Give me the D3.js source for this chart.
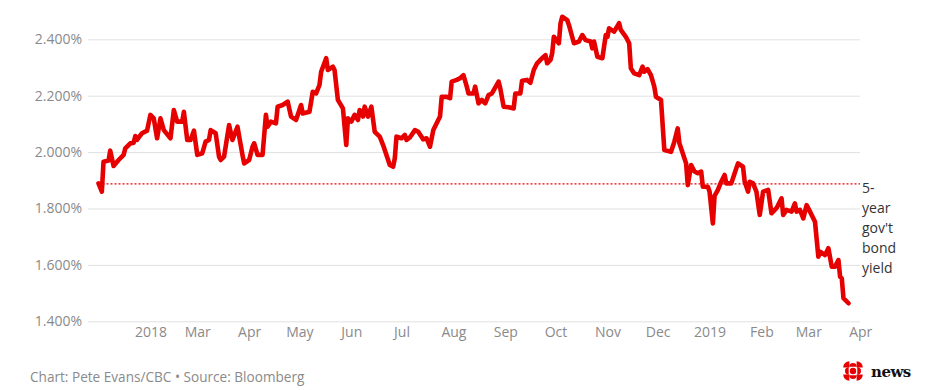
<!DOCTYPE html>
<html>
<head>
<meta charset="utf-8">
<script src="https://cdn.jsdelivr.net/npm/d3@7"></script>
<style>
  body { margin: 0; background: #fff; }
  svg { display: block; font-family: "Open Sans", sans-serif; }
</style>
</head>
<body>
<svg width="933" height="390"></svg>
<script>
// Canada 5-year government bond yield, %
var dates = [
  "2018-01-01","2018-01-03","2018-01-04","2018-01-07","2018-01-08","2018-01-10","2018-01-13","2018-01-16","2018-01-17","2018-01-20",
  "2018-01-22","2018-01-23","2018-01-24","2018-01-27","2018-01-30","2018-02-01","2018-02-03","2018-02-05","2018-02-07","2018-02-09",
  "2018-02-13","2018-02-15","2018-02-17","2018-02-20","2018-02-21","2018-02-23","2018-02-25","2018-02-27","2018-03-01","2018-03-04",
  "2018-03-06","2018-03-08","2018-03-09","2018-03-12","2018-03-14","2018-03-15","2018-03-17","2018-03-20","2018-03-22","2018-03-25",
  "2018-03-28","2018-03-29","2018-04-01","2018-04-03","2018-04-04","2018-04-06","2018-04-09","2018-04-11","2018-04-12","2018-04-14",
  "2018-04-17","2018-04-18","2018-04-21","2018-04-24","2018-04-26","2018-04-29","2018-05-02","2018-05-03","2018-05-07","2018-05-09",
  "2018-05-11","2018-05-13","2018-05-14","2018-05-17","2018-05-18","2018-05-21","2018-05-22","2018-05-24","2018-05-27","2018-05-29",
  "2018-05-30","2018-06-01","2018-06-03","2018-06-05","2018-06-06","2018-06-08","2018-06-09","2018-06-11","2018-06-13","2018-06-15",
  "2018-06-18","2018-06-20","2018-06-22","2018-06-24","2018-06-26","2018-06-27","2018-06-28","2018-07-01","2018-07-03","2018-07-04",
  "2018-07-06","2018-07-09","2018-07-11","2018-07-14","2018-07-16","2018-07-18","2018-07-20","2018-07-22","2018-07-24","2018-07-25",
  "2018-07-28","2018-07-30","2018-07-31","2018-08-03","2018-08-05","2018-08-07","2018-08-09","2018-08-10","2018-08-13","2018-08-14",
  "2018-08-16","2018-08-18","2018-08-20","2018-08-22","2018-08-24","2018-08-28","2018-08-29","2018-08-31","2018-09-03","2018-09-06",
  "2018-09-07","2018-09-10","2018-09-11","2018-09-14","2018-09-16","2018-09-18","2018-09-20","2018-09-23","2018-09-25","2018-09-26",
  "2018-09-28","2018-09-29","2018-09-30","2018-10-03","2018-10-04","2018-10-05","2018-10-08","2018-10-09","2018-10-12","2018-10-15",
  "2018-10-17","2018-10-19","2018-10-22","2018-10-23","2018-10-24","2018-10-26","2018-10-29","2018-10-31","2018-11-01","2018-11-02",
  "2018-11-05","2018-11-08","2018-11-09","2018-11-12","2018-11-14","2018-11-15","2018-11-17","2018-11-20","2018-11-22","2018-11-23",
  "2018-11-25","2018-11-27","2018-11-29","2018-11-30","2018-12-03","2018-12-05","2018-12-09","2018-12-11","2018-12-13","2018-12-14",
  "2018-12-16","2018-12-18","2018-12-19","2018-12-21","2018-12-23","2018-12-25","2018-12-27","2018-12-28","2018-12-31","2019-01-01",
  "2019-01-03","2019-01-04","2019-01-06","2019-01-08","2019-01-10","2019-01-11","2019-01-14","2019-01-16","2019-01-18","2019-01-21",
  "2019-01-22","2019-01-24","2019-01-25","2019-01-27","2019-01-29","2019-01-31","2019-02-02","2019-02-05","2019-02-07","2019-02-10",
  "2019-02-13","2019-02-14","2019-02-16","2019-02-19","2019-02-21","2019-02-22","2019-02-24","2019-02-26","2019-02-28","2019-03-02",
  "2019-03-05","2019-03-07","2019-03-08","2019-03-11","2019-03-13","2019-03-15","2019-03-17","2019-03-19","2019-03-20","2019-03-21",
  "2019-03-22","2019-03-25"
];
var yields = [
  1.889,1.860,1.966,1.970,2.005,1.951,1.972,1.990,2.013,2.031,
  2.033,2.057,2.043,2.067,2.076,2.132,2.120,2.049,2.120,2.078,
  2.049,2.149,2.108,2.108,2.143,2.043,2.043,2.076,1.990,1.996,
  2.037,2.043,2.078,2.067,1.984,1.972,1.984,2.096,2.043,2.090,
  1.990,1.960,1.972,2.019,2.031,1.990,1.990,2.132,2.090,2.108,
  2.102,2.161,2.167,2.179,2.126,2.114,2.167,2.137,2.143,2.214,
  2.208,2.238,2.285,2.333,2.291,2.303,2.291,2.185,2.155,2.025,
  2.120,2.108,2.132,2.114,2.149,2.126,2.161,2.126,2.161,2.072,
  2.055,2.025,1.990,1.954,1.948,1.978,2.055,2.049,2.061,2.043,
  2.052,2.078,2.072,2.045,2.049,2.019,2.078,2.102,2.126,2.196,
  2.196,2.191,2.250,2.256,2.262,2.273,2.232,2.208,2.208,2.232,
  2.173,2.185,2.173,2.202,2.208,2.250,2.226,2.161,2.159,2.155,
  2.208,2.208,2.253,2.256,2.246,2.291,2.315,2.333,2.344,2.315,
  2.327,2.350,2.409,2.386,2.457,2.480,2.468,2.451,2.386,2.392,
  2.415,2.397,2.392,2.368,2.392,2.338,2.333,2.415,2.409,2.439,
  2.427,2.457,2.433,2.409,2.386,2.297,2.279,2.273,2.303,2.285,
  2.294,2.273,2.232,2.196,2.185,2.007,2.001,2.037,2.084,2.031,
  1.996,1.960,1.883,1.954,1.931,1.925,1.931,1.877,1.877,1.860,
  1.747,1.845,1.866,1.895,1.919,1.889,1.889,1.925,1.960,1.948,
  1.895,1.860,1.895,1.889,1.860,1.777,1.860,1.866,1.783,1.801,
  1.836,1.777,1.795,1.789,1.818,1.789,1.795,1.765,1.812,1.789,
  1.753,1.629,1.647,1.635,1.659,1.594,1.594,1.617,1.558,1.552,
  1.482,1.464
];
var refValue = 1.887;
var refLabel = ["5-", "year", "gov't", "bond", "yield"];

var yTicks = [1.4, 1.6, 1.8, 2.0, 2.2, 2.4];
var xTickDates = ["2018-02-01","2018-03-01","2018-04-01","2018-05-01","2018-06-01","2018-07-01","2018-08-01",
  "2018-09-01","2018-10-01","2018-11-01","2018-12-01","2019-01-01","2019-02-01","2019-03-01","2019-04-01"];
var xTickLabels = ["2018","Mar","Apr","May","Jun","Jul","Aug","Sep","Oct","Nov","Dec","2019","Feb","Mar","Apr"];

var footerText = "Chart: Pete Evans/CBC \u2022 Source: Bloomberg";

var parse = d3.timeParse("%Y-%m-%d");
var data = dates.map(function(d, i) { return {date: parse(d), value: yields[i]}; });

var svg = d3.select("svg");
var gridLeft = 88, gridRight = 860;

var x = d3.scaleTime()
  .domain([parse("2018-01-01"), parse("2019-04-01")])
  .range([98.5, 860.2]);
var y = d3.scaleLinear()
  .domain([1.4, 2.4])
  .range([321.3, 39.3]);

// gridlines + y labels
var yAxis = svg.append("g")
  .attr("transform", "translate(" + gridLeft + ",0)")
  .call(d3.axisLeft(y).tickValues(yTicks).tickSize(-(gridRight - gridLeft))
    .tickFormat(function(d) { return d3.format(".3f")(d) + "%"; }));
yAxis.select(".domain").remove();
yAxis.selectAll(".tick line").attr("stroke", "#e1e1e1").attr("stroke-width", 1);
yAxis.selectAll(".tick text")
  .attr("x", -6)
  .attr("fill", "#8a8a8a")
  .style("font-size", "14px")
  .style("font-family", "'Open Sans', sans-serif");

// x labels
var xAxis = svg.append("g")
  .attr("transform", "translate(0,327)")
  .call(d3.axisBottom(x).tickValues(xTickDates.map(parse)).tickSize(0)
    .tickFormat(function(d, i) { return xTickLabels[i]; }));
xAxis.select(".domain").remove();
xAxis.selectAll(".tick text")
  .attr("dy", "0.71em")
  .attr("y", 0)
  .attr("fill", "#8a8a8a")
  .style("font-size", "14px")
  .style("font-family", "'Open Sans', sans-serif");

// dotted reference line
svg.append("line")
  .attr("x1", x(data[0].date)).attr("x2", gridRight)
  .attr("y1", y(refValue)).attr("y2", y(refValue))
  .attr("stroke", "#e3000b")
  .attr("stroke-width", 1.3)
  .attr("stroke-dasharray", "2,2");

svg.append("text")
  .attr("x", 862)
  .attr("y", y(refValue) + 9)
  .attr("fill", "#333")
  .style("font-size", "14px")
  .selectAll("tspan")
  .data(refLabel)
  .enter().append("tspan")
  .attr("x", 862)
  .attr("dy", function(d, i) { return i === 0 ? 0 : 20; })
  .text(function(d) { return d; });

// the yield line
var line = d3.line()
  .x(function(d) { return x(d.date); })
  .y(function(d) { return y(d.value); });

svg.append("path")
  .datum(data)
  .attr("d", line)
  .attr("fill", "none")
  .attr("stroke", "#e60000")
  .attr("stroke-width", 4.6)
  .attr("stroke-linejoin", "round")
  .attr("stroke-linecap", "round");

// footer
svg.append("text")
  .attr("x", 30)
  .attr("y", 382)
  .attr("fill", "#8a8a8a")
  .style("font-size", "13.6px")
  .text(footerText);

// cbc news logo: centre dot, four half discs, four quarter discs
var gem = svg.append("g").attr("transform", "translate(853,371)").attr("fill", "#e60000");
gem.append("circle").attr("r", 3.2);
[[0, -1], [1, 0], [0, 1], [-1, 0]].forEach(function(p) {
  var mid = Math.atan2(p[0], -p[1]);
  gem.append("path")
    .attr("transform", "translate(" + p[0] * 4.3 + "," + p[1] * 4.3 + ")")
    .attr("d", d3.arc().innerRadius(0).outerRadius(3.7)
      .startAngle(mid - Math.PI / 2)
      .endAngle(mid + Math.PI / 2)());
});
[[1, -1], [1, 1], [-1, 1], [-1, -1]].forEach(function(p) {
  var mid = Math.atan2(p[0], -p[1]);
  gem.append("path")
    .attr("transform", "translate(" + p[0] * 3.6 + "," + p[1] * 3.6 + ")")
    .attr("d", d3.arc().innerRadius(0).outerRadius(6.2)
      .startAngle(mid - Math.PI / 4)
      .endAngle(mid + Math.PI / 4)());
});

svg.append("text")
  .attr("x", 871)
  .attr("y", 377)
  .attr("fill", "#111")
  .style("font-family", "'DejaVu Serif', serif")
  .style("font-weight", "bold")
  .style("font-size", "15px")
  .style("letter-spacing", "-0.5px")
  .text("news");
</script>
</body>
</html>
